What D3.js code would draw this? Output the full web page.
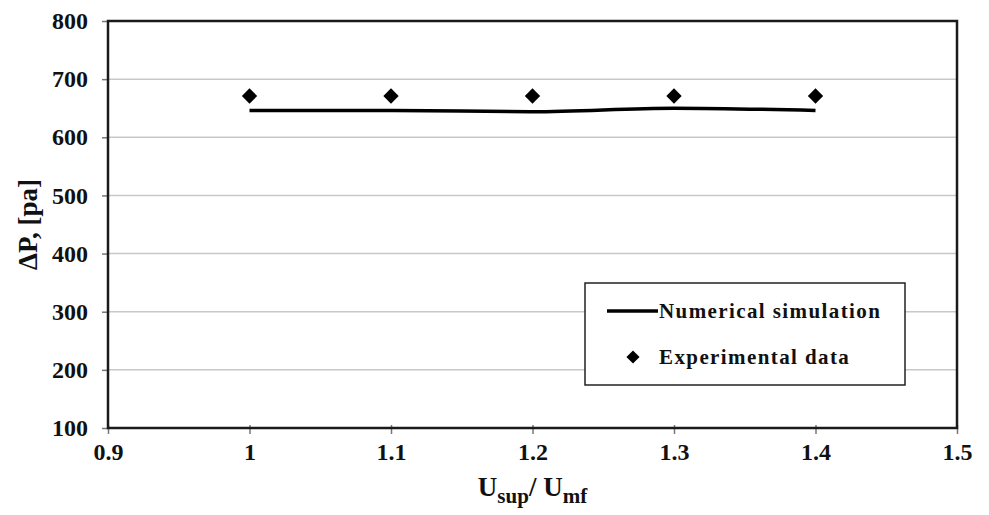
<!DOCTYPE html>
<html>
<head>
<meta charset="utf-8">
<script src="https://cdn.jsdelivr.net/npm/d3@7"></script>
<style>
body { margin: 0; background: #fff; }
text { font-family: "Liberation Serif", "DejaVu Serif", serif; font-weight: bold; fill: #111; }
</style>
</head>
<body>
<div id="chart"></div>
<script>
var ratio = [1.0, 1.1, 1.2, 1.3, 1.4];
var simulation = [646, 646, 644, 650, 646];
var experimental = [671, 671, 671, 671, 671];
var xTicks = [0.9, 1, 1.1, 1.2, 1.3, 1.4, 1.5];
var yTicks = [100, 200, 300, 400, 500, 600, 700, 800];

var W = 989, H = 515;
var m = { left: 108, right: 32, top: 21, bottom: 87 };

var svg = d3.select('#chart')
    .append('svg')
    .attr('width', W)
    .attr('height', H);

var x = d3.scaleLinear().domain([0.9, 1.5]).range([m.left, W - m.right]);
var y = d3.scaleLinear().domain([100, 800]).range([H - m.bottom, m.top]);

// gridlines
svg.append('g')
    .selectAll('line')
    .data(yTicks.slice(1, -1))
    .enter()
    .append('line')
    .attr('x1', x(0.9)).attr('x2', x(1.5))
    .attr('y1', (d) => y(d)).attr('y2', (d) => y(d))
    .attr('stroke', '#c8c8c8')
    .attr('stroke-width', 1.5);

// axes
var yAxis = svg.append('g')
    .attr('transform', `translate(${m.left},0)`)
    .call(d3.axisLeft(y).tickValues(yTicks).tickSize(6).tickPadding(14));
var xAxis = svg.append('g')
    .attr('transform', `translate(0,${H - m.bottom})`)
    .call(d3.axisBottom(x).tickValues(xTicks).tickSize(6).tickPadding(9)
        .tickFormat((d) => d === 1 ? '1' : d3.format('.1f')(d)));

[yAxis, xAxis].forEach(function (a) {
    a.select('.domain').remove();
    a.selectAll('.tick line').attr('stroke', '#777').attr('stroke-width', 1.5);
    a.selectAll('.tick text')
        .style('font-size', '24px')
        .style('font-family', '"Liberation Serif", serif')
        .style('font-weight', 'bold')
        .attr('fill', '#111');
});
xAxis.selectAll('.tick line').attr('y1', -3);

// plot frame
svg.append('rect')
    .attr('x', x(0.9)).attr('y', y(800))
    .attr('width', x(1.5) - x(0.9))
    .attr('height', y(100) - y(800))
    .attr('fill', 'none')
    .attr('stroke', '#1a1a1a')
    .attr('stroke-width', 2.5);

// simulation line
var line = d3.line()
    .x((d, i) => x(ratio[i]))
    .y((d) => y(d))
    .curve(d3.curveMonotoneX);
svg.append('path')
    .datum(simulation)
    .attr('d', line)
    .attr('fill', 'none')
    .attr('stroke', '#000')
    .attr('stroke-width', 3.5);

// experimental diamonds
var diamond = d3.symbol().type(d3.symbolDiamond2).size(150);
svg.append('g')
    .selectAll('path')
    .data(experimental)
    .enter()
    .append('path')
    .attr('d', diamond)
    .attr('transform', (d, i) => `translate(${x(ratio[i])},${y(d)})`)
    .attr('fill', '#000');

// legend
var lg = svg.append('g');
lg.append('rect')
    .attr('x', 585).attr('y', 283)
    .attr('width', 320).attr('height', 102)
    .attr('fill', '#fff')
    .attr('stroke', '#222')
    .attr('stroke-width', 1.5);
lg.append('line')
    .attr('x1', 607).attr('x2', 658)
    .attr('y1', 311).attr('y2', 311)
    .attr('stroke', '#000').attr('stroke-width', 3.5);
lg.append('text')
    .attr('x', 659).attr('y', 318)
    .style('font-size', '21px')
    .style('letter-spacing', '1.4px')
    .text('Numerical simulation');
lg.append('path')
    .attr('d', d3.symbol().type(d3.symbolDiamond2).size(110))
    .attr('transform', 'translate(633,357)')
    .attr('fill', '#000');
lg.append('text')
    .attr('x', 659).attr('y', 364)
    .style('font-size', '21px')
    .style('letter-spacing', '1.4px')
    .text('Experimental data');

// axis titles
svg.append('text')
    .attr('transform', `translate(37,${(y(100) + y(800)) / 2}) rotate(-90)`)
    .attr('text-anchor', 'middle')
    .style('font-size', '27px')
    .text('ΔP, [pa]');

var xt = svg.append('text')
    .attr('x', (x(0.9) + x(1.5)) / 2)
    .attr('y', 496)
    .attr('text-anchor', 'middle')
    .style('font-size', '27px');
xt.append('tspan').text('U');
xt.append('tspan').attr('dy', 7).style('font-size', '21px').text('sup');
xt.append('tspan').attr('dy', -7).text('/ U');
xt.append('tspan').attr('dy', 7).style('font-size', '21px').text('mf');
</script>
</body>
</html>
